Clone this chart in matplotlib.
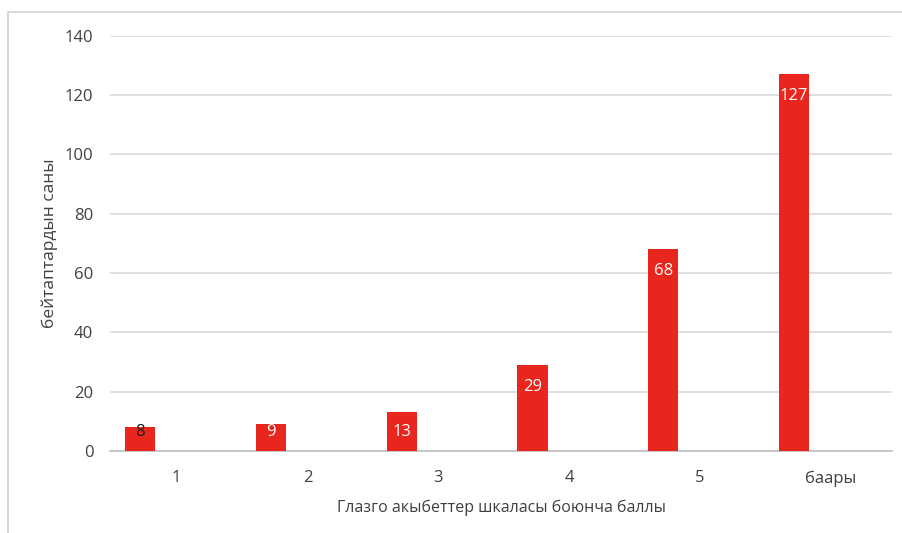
import numpy as np
import matplotlib
matplotlib.use("Agg")
import matplotlib.pyplot as plt
from matplotlib.patches import Rectangle

plt.rcParams['font.family'] = ['Open Sans', 'DejaVu Sans']

categories = ['1', '2', '3', '4', '5', 'баары']
counts = [8, 9, 13, 29, 68, 127]
label_colors = ['#1a1a1a', 'white', 'white', 'white', 'white', 'white']

text_col = '#404040'
bar_col = '#e8261d'

fig = plt.figure(figsize=(9.03, 5.33), dpi=100)
ax = fig.add_axes([0.1218, 0.1538, 0.8662, 0.7792])

# frame around the whole chart
fig.patches.append(Rectangle((8 / 903, -0.01), 1.0, 1 - 12 / 533 + 0.01,
                             transform=fig.transFigure, fill=False,
                             edgecolor='#d0d0d0', lw=1.2))

x = np.arange(len(categories))
bars = ax.bar(x - 0.28, counts, width=0.23, color=bar_col, zorder=3)

# labels sit inside the bar top, short bars keep them just above the axis
for b, v, c in zip(bars, counts, label_colors):
    ax.text(b.get_x() + b.get_width() / 2, max(v - 7.4, 6.4), str(v),
            ha='center', va='center', color=c, fontsize=12, zorder=4)

ax.set_xlim(-0.51, 5.47)
ax.set_ylim(0, 140)
ax.set_yticks(range(0, 141, 20))
ax.set_xticks(x)
ax.set_xticklabels(categories)
ax.grid(axis='y', color='#d9d9d9', lw=1.2, zorder=0)
ax.tick_params(axis='both', length=0, colors=text_col, labelsize=12)
ax.tick_params(axis='x', pad=14)
ax.tick_params(axis='y', pad=12)

for s in ['top', 'right', 'left']:
    ax.spines[s].set_visible(False)
ax.spines['bottom'].set_color('#bfbfbf')
ax.spines['bottom'].set_linewidth(1.2)

ax.set_xlabel('Глазго акыбеттер шкаласы боюнча баллы', color=text_col,
              fontsize=11.5, labelpad=9)
ax.set_ylabel('бейтаптардын саны', color=text_col, fontsize=12.5, labelpad=5)

fig.savefig('out.png', dpi=100)
